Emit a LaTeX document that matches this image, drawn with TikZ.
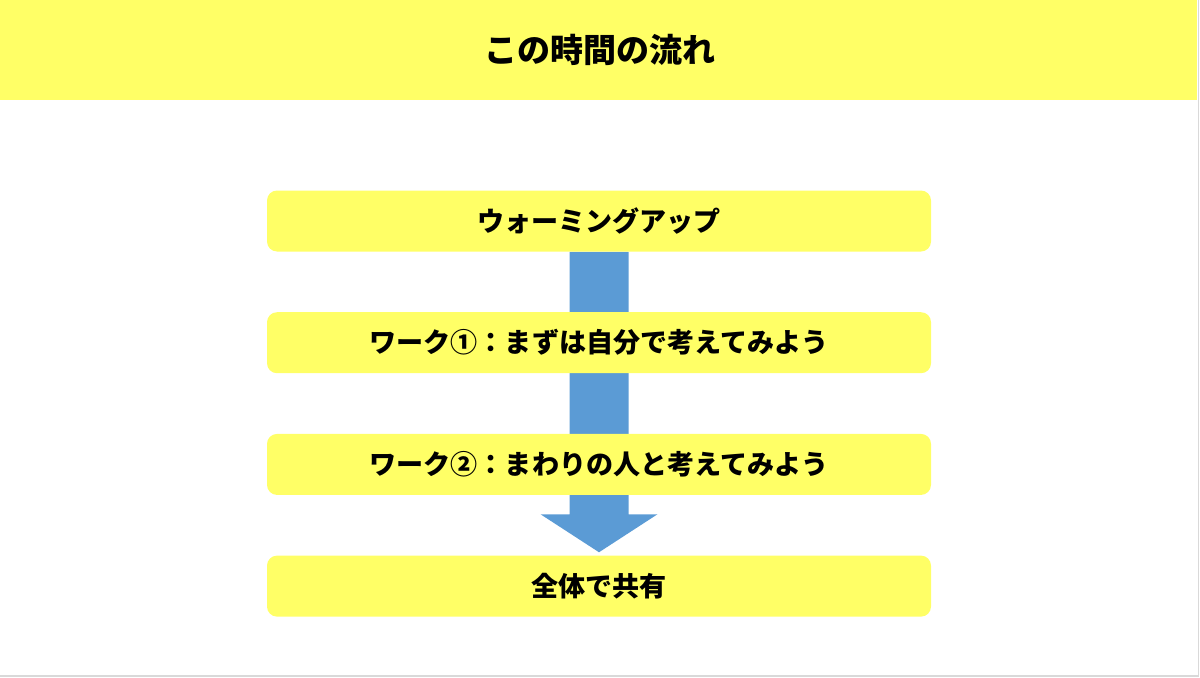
\documentclass[tikz,border=0pt]{standalone}
\usepackage{fontspec}
\newfontfamily\jpfont{Noto Sans CJK JP}
\usetikzlibrary{calc,positioning,backgrounds}
\definecolor{hdryellow}{HTML}{FFFF66}
\definecolor{flowblue}{HTML}{5B9BD5}
\definecolor{edgegray}{HTML}{D9D9D9}

\begin{document}
\begin{tikzpicture}[
    stage/.style={fill=hdryellow, rounded corners=0.2cm, minimum width=13.28cm,
        minimum height=1.22cm, inner sep=0pt,
        font=\jpfont\bfseries\fontsize{15.4}{18}\selectfont},
    node distance=1.2cm
]
    \useasboundingbox (0,0) rectangle (24,-13.54);
    \fill [hdryellow] (0,0) rectangle (23.94,-2);
    \draw [edgegray, line width=0.9pt] (23.97,0) -- (23.97,-13.52) -- (0,-13.52);
    \node [font=\jpfont\bfseries\fontsize{18.8}{22}\selectfont] (title) at (12,-1) {この時間の流れ};

\node [stage] (warmup) at (11.98,-4.42) {ウォーミングアップ};
\node [stage, below=of warmup] (work1) {ワーク①：まずは自分で考えてみよう};
\node [stage, below=of work1] (work2) {ワーク②：まわりの人と考えてみよう};
\node [stage, below=of work2] (share) {全体で共有};

% block arrow behind the stages
\begin{pgfonlayer}{background}
\fill [flowblue] ($(warmup.south)+(-0.59,0)$) -- ($(share.north)+(-0.59,0.82)$)
    -- ($(share.north)+(-1.17,0.82)$) -- ($(share.north)+(0,0.06)$)
    -- ($(share.north)+(1.17,0.82)$) -- ($(share.north)+(0.59,0.82)$)
    -- ($(warmup.south)+(0.59,0)$) -- cycle;
\end{pgfonlayer}
\end{tikzpicture}
\end{document}
